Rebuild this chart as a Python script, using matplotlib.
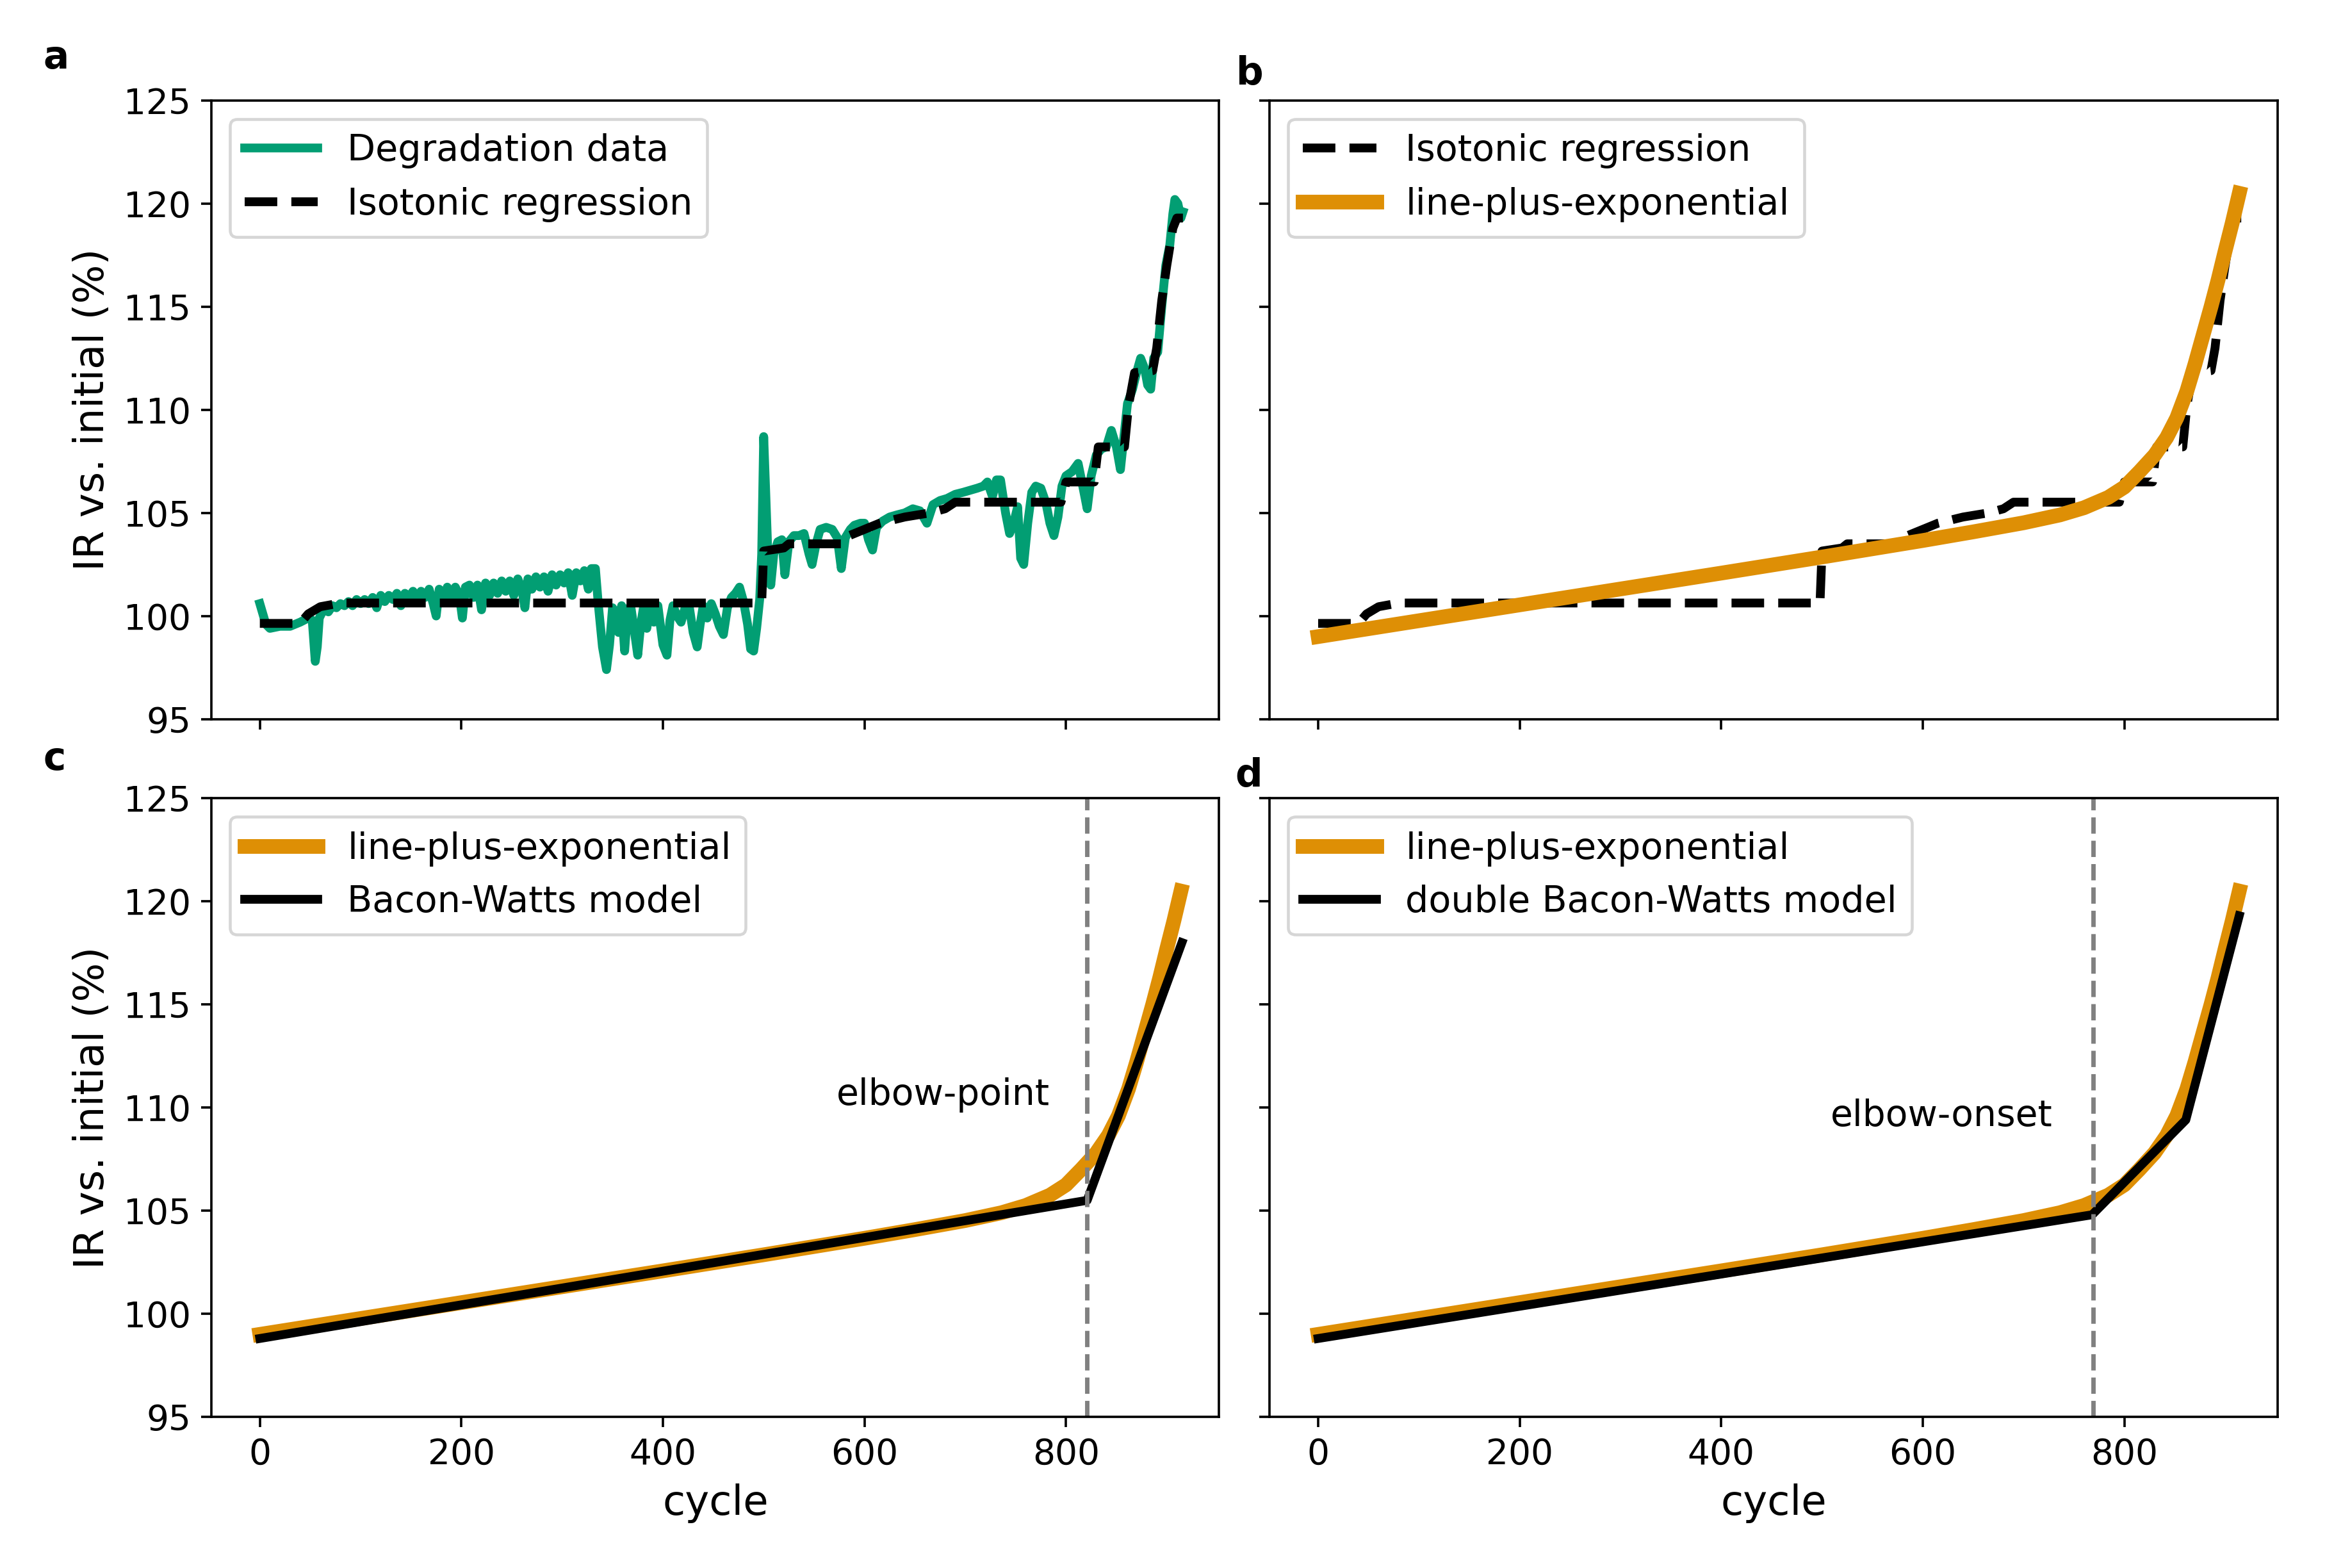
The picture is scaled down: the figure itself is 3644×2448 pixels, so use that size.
import matplotlib
matplotlib.use("Agg")
import matplotlib.pyplot as plt

# ---------------- data ----------------
deg_cycle = [0, 3, 6, 10, 20, 30, 40, 48, 52, 55, 57, 59,
             64, 68, 72, 76, 80, 84, 88, 92, 96, 100, 104, 108, 112, 116, 120, 124, 128, 132,
             136, 140, 144, 148, 152, 156, 160, 164, 168, 172, 175, 178, 182, 186, 190, 194,
             198, 201, 204, 208, 212, 216, 220, 224, 228, 232, 236, 240, 244, 248, 252, 256,
             260, 263, 266, 270, 274, 278, 282, 286, 290, 294, 298, 302, 306, 310, 314, 318,
             322, 326, 329, 333,
             336, 340, 344, 347, 350, 353, 356, 359, 362, 365, 368, 371, 375, 378, 381, 384,
             387, 391, 395, 400, 404, 407, 410, 414, 418, 422, 426, 430, 434, 437, 440, 444,
             448, 452, 456, 460, 464, 468, 472, 476, 480, 484, 487, 490, 493, 496, 498, 500,
             502, 504,
             507, 510, 514, 518, 521, 525, 530, 535, 540, 545, 548, 552, 556, 562, 568, 573,
             577, 581, 586, 590, 596, 600, 604, 608, 612, 618, 625, 632, 640, 648, 655, 662,
             668, 675, 682, 690, 698, 705, 712, 718, 722, 727, 731, 735, 740, 744, 748, 752,
             755, 758, 762, 766, 770, 775, 780, 784, 788, 792, 796, 800, 806, 812, 817, 821,
             825, 830, 835, 840, 845, 850, 854, 857, 861, 866, 870, 874, 878, 881, 884, 887,
             891, 895, 899, 903, 906, 908, 911, 914, 916]
deg_ir = [100.6, 100.1, 99.6, 99.4, 99.5, 99.5, 99.7, 99.9, 99.8, 97.8, 98.5, 99.9,
          100.4, 100.2, 100.5, 100.4, 100.6, 100.5, 100.7, 100.5, 100.8, 100.6, 100.8, 100.6,
          100.9, 100.4, 101.0, 100.7, 101.0, 100.8, 101.1, 100.5, 101.1, 100.9, 101.2, 100.8,
          101.2, 100.9, 101.3, 100.6, 100.0, 101.3, 100.8, 101.4, 100.9, 101.4, 101.0, 99.9,
          101.4, 101.5, 100.9, 101.5, 100.3, 101.6, 101.0, 101.6, 101.1, 101.7, 101.2, 101.7,
          101.0, 101.8, 101.3, 100.4, 101.8, 101.3, 101.9, 101.4, 101.9, 101.2, 102.0, 101.5,
          102.0, 101.6, 102.1, 101.0, 102.1, 101.7, 102.2, 101.3, 102.3, 102.3,
          100.5, 98.5, 97.4, 98.6, 100.4, 100.0, 99.2, 100.5, 98.3, 100.3, 100.5, 99.5, 98.1,
          99.6, 100.5, 99.4, 100.4, 99.7, 100.5, 98.6, 98.1, 99.8, 100.5, 100.0, 99.7, 100.4,
          100.5, 99.2, 98.5, 99.6, 100.5, 99.9, 100.6, 100.1, 99.5, 99.1, 100.4, 100.9, 101.1,
          101.4, 100.7, 99.6, 98.4, 98.3, 99.4, 100.8, 103.0, 108.7, 106.0, 103.2,
          101.5, 103.0, 103.6, 103.7, 102.0, 103.6, 103.9, 103.9, 104.0, 103.0, 102.5, 103.5,
          104.2, 104.3, 104.2, 103.8, 102.3, 103.8, 104.2, 104.4, 104.5, 104.5, 103.7, 103.2,
          104.3, 104.6, 104.8, 104.9, 105.0, 105.2, 105.1, 104.5, 105.4, 105.6, 105.7, 105.9,
          106.0, 106.1, 106.2, 106.3, 106.5, 105.8, 106.6, 106.6, 105.0, 104.0, 104.5, 105.3,
          102.8, 102.5, 104.5, 106.0, 106.3, 106.2, 105.5, 104.5, 103.9, 104.8, 106.3, 106.8,
          107.0, 107.4, 106.2, 105.2, 106.8, 107.8, 108.1, 108.2, 109.0, 108.2, 107.1, 108.5,
          110.3, 111.0, 111.8, 112.5, 112.0, 111.2, 111.0, 112.5, 112.8, 115.0, 117.0, 118.0,
          119.5, 120.2, 120.0, 119.3, 119.6]

iso_cycle = [0, 40, 48, 60, 80, 498, 500, 520, 525, 580, 585, 600, 615, 640, 665, 680, 690,
             795, 800, 828, 832, 858, 862, 868, 886, 890, 895, 900, 906, 910, 916]
iso_ir = [99.64, 99.64, 100.1, 100.45, 100.63, 100.63, 103.15, 103.3, 103.5, 103.5, 103.9,
          104.2, 104.5, 104.8, 105.0, 105.2, 105.52, 105.52, 106.5, 106.5, 108.2, 108.2, 110.2,
          111.8, 111.9, 113.0, 115.3, 117.0, 118.8, 119.3, 119.3]

lpe_cycle = [0, 100, 200, 300, 400, 500, 600, 650, 700, 736, 760, 784, 800, 815, 830, 842,
             852, 862, 870, 878, 886, 893, 900, 907, 914]
lpe_ir = [99.0, 99.77, 100.54, 101.31, 102.08, 102.86, 103.66, 104.08, 104.52, 104.9, 105.25,
          105.75, 106.25, 107.0, 107.8, 108.65, 109.6, 110.9, 112.2, 113.6, 115.0, 116.3, 117.7,
          119.05, 120.5]

bw_cycle = [0, 821, 915]
bw_ir = [98.8, 105.5, 118.0]

dbw_cycle = [0, 768, 861, 914]
dbw_ir = [98.8, 104.8, 109.4, 119.3]

elbow_point = 821
elbow_onset = 769

yticks = [95, 100, 105, 110, 115, 120, 125]
xticks = [0, 200, 400, 600, 800]

GREEN = "#029E73"
ORANGE = "#DE8F05"

# ---------------- figure ----------------
W, H, DPI = 3644, 2448, 330
fig, axes = plt.subplots(2, 2, sharex=True, sharey=True,
                         figsize=(W / DPI, H / DPI), dpi=DPI)
fig.subplots_adjust(left=0.0906, right=0.9758, top=0.9359, bottom=0.0964,
                    wspace=0.0502, hspace=0.128)
ax_a, ax_b = axes[0]
ax_c, ax_d = axes[1]

ax_a.plot(deg_cycle, deg_ir, color=GREEN, lw=3, label="Degradation data")
ax_a.plot(iso_cycle, iso_ir, color="black", lw=3, ls="--", label="Isotonic regression")

ax_b.plot(iso_cycle, iso_ir, color="black", lw=3, ls="--", label="Isotonic regression")
ax_b.plot(lpe_cycle, lpe_ir, color=ORANGE, lw=5, label="line-plus-exponential")

ax_c.plot(lpe_cycle, lpe_ir, color=ORANGE, lw=5, label="line-plus-exponential")
ax_c.plot(bw_cycle, bw_ir, color="black", lw=3, label="Bacon-Watts model")
ax_c.axvline(elbow_point, color="gray", ls="--", lw=1.5)
ax_c.text(elbow_point - 37, 110.6, "elbow-point", ha="right", va="center", fontsize=12.4)

ax_d.plot(lpe_cycle, lpe_ir, color=ORANGE, lw=5, label="line-plus-exponential")
ax_d.plot(dbw_cycle, dbw_ir, color="black", lw=3, label="double Bacon-Watts model")
ax_d.axvline(elbow_onset, color="gray", ls="--", lw=1.5)
ax_d.text(elbow_onset - 40, 109.6, "elbow-onset", ha="right", va="center", fontsize=12.4)

for ax in axes.flat:
    ax.set_ylim(95, 125)
    ax.set_xlim(-48, 952)
    ax.set_yticks(yticks)
    ax.set_xticks(xticks)
    ax.tick_params(labelsize=12)
    ax.legend(loc="upper left", fontsize=12.5, borderpad=0.4)

ax_a.set_ylabel("IR vs. initial (%)", fontsize=14)
ax_c.set_ylabel("IR vs. initial (%)", fontsize=14)
ax_c.set_xlabel("cycle", fontsize=14)
ax_d.set_xlabel("cycle", fontsize=14)

for lab, px, py in [("a", 68, 107), ("b", 1930, 132), ("c", 68, 1202), ("d", 1928, 1228)]:
    fig.text(px / W, 1 - py / H, lab, fontsize=13, fontweight="bold",
             ha="left", va="baseline")

fig.savefig("out.png", dpi=DPI)
